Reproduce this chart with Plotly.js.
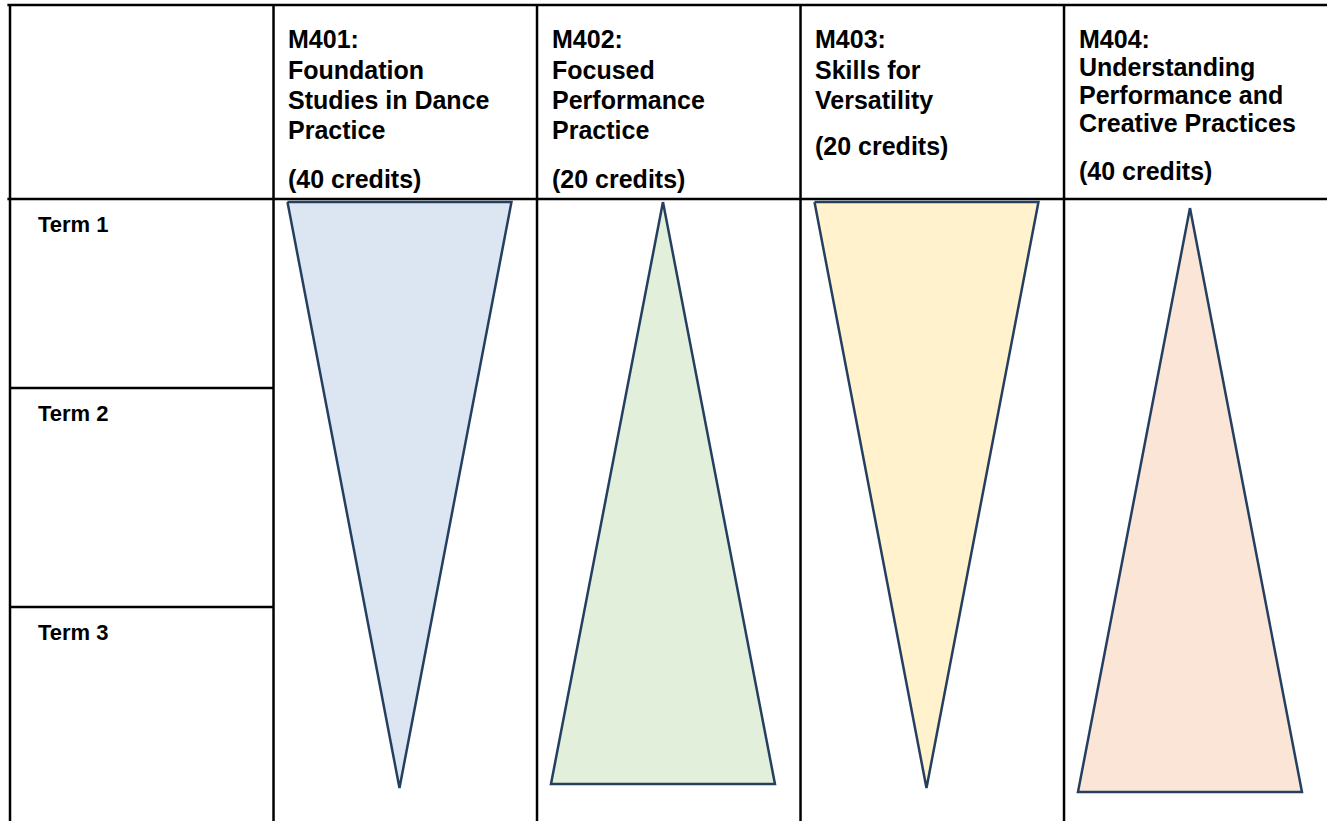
<!DOCTYPE html>
<html>
<head>
<meta charset="utf-8">
<script src="https://cdn.plot.ly/plotly-3.0.1.min.js"></script>
<style>
html,body{margin:0;padding:0;background:#fff;}
#chart{width:1327px;height:821px;}
</style>
</head>
<body>
<div id="chart"></div>
<script>
// ---------- data ----------
const modules = ['M401:', 'M402:', 'M403:', 'M404:'];
const moduleTitles = [
  ['Foundation', 'Studies in Dance', 'Practice'],
  ['Focused', 'Performance', 'Practice'],
  ['Skills for', 'Versatility'],
  ['Understanding', 'Performance and', 'Creative Practices']
];
const credits = [40, 20, 20, 40];
const terms = ['Term 1', 'Term 2', 'Term 3'];
const termStartWeek = [0, 9.45, 20.4];          // start of each term row (weeks)
const moduleStartWeek = [0.15, 0.15, 0.15, 0.45]; // where each module's shape begins
const moduleEndWeek = [29.45, 29.25, 29.45, 29.65]; // where each module's shape ends
const emphasisStart = [1, 0, 1, 0];               // relative weight at start of year
const emphasisEnd = [0, 1, 0, 1];                 // relative weight at end of year

// ---------- styles ----------
const fills = ['#dce6f2', '#e2efda', '#fff2cc', '#fbe5d6'];
const outline = '#243f60';
const halfWidth = 0.425;   // half width of full-weight shape, in column units
const centreOffset = 0.478;
const FONT = 'Arial, "Liberation Sans", sans-serif';
const headFs = 25;
const termFs = 22;

const traces = modules.map((m, i) => {
  const c = i + 1 + centreOffset;
  const ws = emphasisStart[i] * halfWidth, we = emphasisEnd[i] * halfWidth;
  const s = moduleStartWeek[i], e = moduleEndWeek[i];
  return {
    type: 'scatter', mode: 'lines', fill: 'toself',
    x: [c - ws, c + ws, c + we, c - we, c - ws],
    y: [s, s, e, e, s],
    fillcolor: fills[i],
    line: {color: outline, width: 2.5},
    hoverinfo: 'skip', showlegend: false
  };
});

// table grid
const shapes = [];
const lineStyle = {color: '#000', width: 2.5};
const headerTop = -9.7;
const bottom = 33;
shapes.push({type: 'line', xref: 'x', yref: 'y', x0: -0.01, x1: 5.2, y0: headerTop, y1: headerTop, line: lineStyle});
shapes.push({type: 'line', xref: 'x', yref: 'y', x0: -0.01, x1: 5.2, y0: 0, y1: 0, line: lineStyle});
for (let k = 0; k <= 4; k++) {
  shapes.push({type: 'line', xref: 'x', yref: 'y', x0: k, x1: k, y0: headerTop, y1: bottom, line: lineStyle});
}
termStartWeek.slice(1).forEach(t => {
  shapes.push({type: 'line', xref: 'x', yref: 'y', x0: 0, x1: 1, y0: t, y1: t, line: lineStyle});
});

// text
const annotations = [];
const textX = 0.049;
const yCode = -8.0;
const titleStartOffset = [1.55, 1.55, 1.55, 1.38];
const titleStep = [1.5, 1.5, 1.5, 1.42];
const creditGap = [2.45, 2.45, 2.3, 2.4];
modules.forEach((m, i) => {
  const x = i + 1 + textX;
  annotations.push({x: x, y: yCode, text: '<b>' + m + '</b>', font: {size: headFs}});
  let y = yCode + titleStartOffset[i];
  moduleTitles[i].forEach((t, j) => {
    if (j > 0) y += titleStep[i];
    annotations.push({x: x, y: y, text: '<b>' + t + '</b>', font: {size: headFs}});
  });
  annotations.push({x: x, y: y + creditGap[i], text: '<b>(' + credits[i] + ' credits)</b>', font: {size: headFs}});
});
terms.forEach((t, i) => {
  annotations.push({x: 0.1, y: termStartWeek[i] + 1.25, text: '<b>' + t + '</b>', font: {size: termFs}});
});
annotations.forEach(a => {
  Object.assign(a, {xref: 'x', yref: 'y', xanchor: 'left', yanchor: 'middle', showarrow: false});
  a.font = {family: FONT, size: a.font.size, color: '#000'};
});

const layout = {
  width: 1327, height: 821,
  margin: {l: 0, r: 0, t: 0, b: 0},
  paper_bgcolor: '#fff', plot_bgcolor: '#fff',
  xaxis: {range: [-0.038, 4.998], visible: false, fixedrange: true},
  yaxis: {range: [31.1, -9.95], visible: false, fixedrange: true},
  shapes: shapes,
  annotations: annotations,
  showlegend: false
};

Plotly.newPlot('chart', traces, layout, {displayModeBar: false, staticPlot: true});
</script>
</body>
</html>
